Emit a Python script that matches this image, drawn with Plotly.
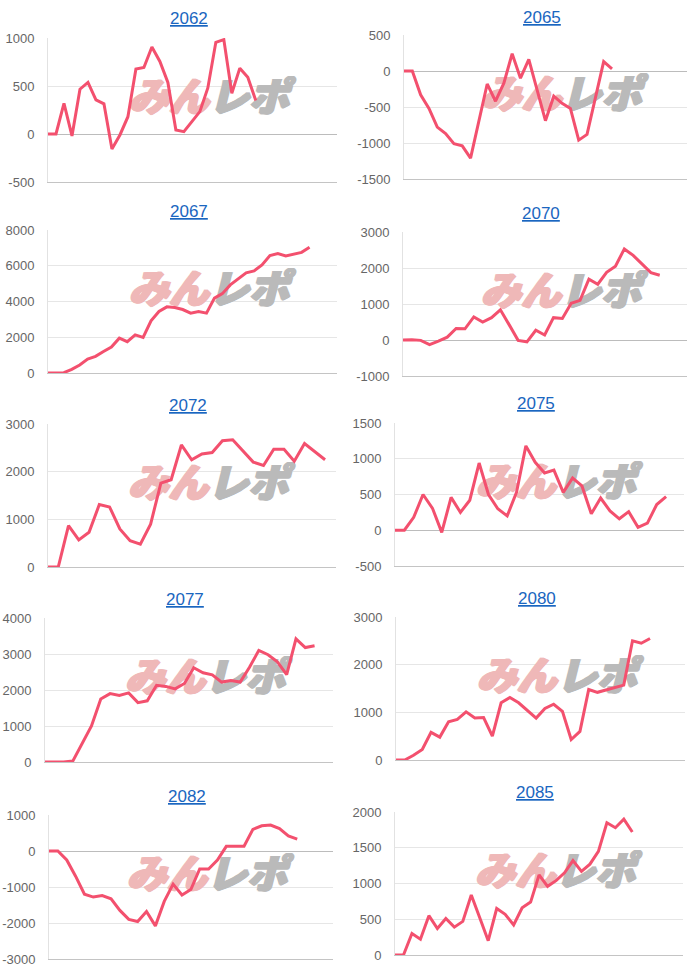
import plotly.graph_objects as go

W, H = 700, 976

# machine numbers (panel titles)
machines = ["2062", "2065", "2067", "2070", "2072", "2075", "2077", "2080", "2082", "2085"]

# cumulative medal difference per machine
m2062 = [0, 0, 320, -20, 467, 537, 355, 314, -157, -10, 180, 676, 693, 906, 756, 537, 42, 24, 129,
         233, 480, 955, 983, 425, 686, 592, 348]
m2065 = [0, 0, -330, -520, -780, -870, -1010, -1040, -1210, -700, -180, -420, -170, 240, -100, 160,
         -250, -690, -350, -450, -520, -960, -880, -380, 130, 30]
m2067 = [0, 0, 20, 200, 450, 780, 930, 1200, 1450, 1950, 1750, 2130, 1990, 2920, 3440, 3700, 3660,
         3550, 3350, 3440, 3350, 4190, 4440, 4930, 5250, 5600, 5710, 6050, 6570, 6680, 6550, 6640,
         6750, 7030]
m2070 = [0, 10, -10, -130, -30, 80, 320, 310, 640, 500, 620, 840, 420, -10, -50, 270, 140, 620, 600,
         1020, 1100, 1690, 1550, 1880, 2050, 2530, 2350, 2100, 1870, 1800]
m2072 = [0, 0, 870, 570, 730, 1310, 1260, 800, 550, 480, 900, 1760, 1830, 2560, 2250, 2370, 2400,
         2650, 2670, 2430, 2200, 2130, 2470, 2470, 2220, 2590, 2420, 2250]
m2075 = [0, 0, 180, 500, 310, -30, 460, 250, 420, 940, 500, 300, 200, 530, 1180, 950, 800, 840, 530,
         730, 620, 230, 450, 270, 160, 260, 40, 100, 360, 470]
m2077 = [0, 0, 0, 30, 500, 1000, 1750, 1900, 1850, 1920, 1650, 1700, 2130, 2100, 2030, 2180, 2620,
         2480, 2420, 2220, 2260, 2220, 2630, 3100, 2980, 2780, 2430, 3420, 3180, 3230]
m2080 = [0, 0, 100, 220, 580, 480, 800, 850, 1010, 880, 890, 500, 1200, 1310, 1200, 1040, 880, 1080,
         1170, 1020, 430, 600, 1480, 1420, 1470, 1530, 1570, 2500, 2450, 2550]
m2082 = [0, 0, -250, -700, -1200, -1280, -1240, -1330, -1650, -1900, -1960, -1680, -2080, -1400, -920,
         -1220, -1070, -500, -500, -250, 130, 130, 130, 600, 700, 720, 620, 420, 330]
m2085 = [0, 0, 300, 220, 550, 370, 510, 390, 470, 840, 520, 200, 650, 570, 420, 660, 740, 1120, 960,
         1040, 1150, 1320, 1170, 1270, 1450, 1850, 1780, 1900, 1720]
series = [m2062, m2065, m2067, m2070, m2072, m2075, m2077, m2080, m2082, m2085]

# y axis ranges and tick steps
y_ranges = [(-500, 1000), (-1500, 500), (0, 8000), (-1000, 3000), (0, 3000),
            (-500, 1500), (0, 4000), (0, 3000), (-3000, 1000), (0, 2000)]
y_steps = [500, 500, 2000, 1000, 1000, 500, 1000, 1000, 1000, 500]

# layout: plot boxes in px (x0, x1, y0, y1) and share of width covered by the line
boxes = [(48, 337, 38, 182), (404, 687, 35, 179), (48, 337, 230, 373), (403, 687, 232, 376),
         (48, 336, 424, 567), (395, 684, 423, 566), (45, 333, 618, 762), (396, 685, 617, 760),
         (49, 333, 815, 959), (395, 683, 812, 955)]
spans = [0.719, 0.735, 0.905, 0.904, 0.962, 0.938, 0.936, 0.879, 0.874, 0.824]
title_y = [19, 17, 212, 213, 406, 404, 599, 598, 796, 792]

LINE = "#f3506e"
FONT = "Liberation Sans, Arial, sans-serif"
PINK = "#efb8b8"
GREY = "#bababa"


def fat(c):
    # thicken the watermark glyphs with a few offset shadows
    return ", ".join(f"{dx}px {dy}px 0px {c}" for dx, dy in [(1, 0), (-1, 0), (0, 1), (2, 0), (1, 1)])


fig = go.Figure()
layout = {}
annotations = []

for i, (name, vals) in enumerate(zip(machines, series)):
    k = "" if i == 0 else str(i + 1)
    x0, x1, y0, y1 = boxes[i]
    n = len(vals)
    xmax = (n - 1) / spans[i]
    ylo, yhi = y_ranges[i]
    ticks = list(range(ylo, yhi + 1, y_steps[i]))

    # watermark drawn first so the line sits on top of it
    wx, wy = xmax * 0.555, ylo + 0.56 * (yhi - ylo)
    for txt, pos, col in [("<i>みん</i>", "middle left", PINK), ("<i>レポ</i>", "middle right", GREY)]:
        fig.add_trace(go.Scatter(
            x=[wx], y=[wy], mode="text", text=[txt], textposition=pos,
            textfont=dict(family="Noto Sans CJK JP", size=40, weight=900, color=col,
                          shadow=fat(col)),
            hoverinfo="skip", showlegend=False,
            xaxis="x" + k, yaxis="y" + k,
        ))

    fig.add_trace(go.Scatter(
        x=list(range(n)), y=vals,
        mode="lines",
        line=dict(color=LINE, width=3),
        showlegend=False,
        xaxis="x" + k, yaxis="y" + k,
    ))

    layout["xaxis" + k] = dict(
        domain=[x0 / W, x1 / W], anchor="y" + k, automargin=False,
        range=[0, xmax], showgrid=False, zeroline=False,
        showticklabels=False, showline=True, linecolor="#c4c4c4", linewidth=1,
    )
    layout["yaxis" + k] = dict(
        domain=[1 - y1 / H, 1 - y0 / H], anchor="x" + k, automargin=False,
        range=[ylo, yhi], tickvals=ticks, ticktext=[str(t) for t in ticks],
        showgrid=True, gridcolor="#e6e6e6", gridwidth=1,
        zeroline=True, zerolinecolor="#bcbcbc", zerolinewidth=1,
        showline=True, linecolor="#e2e2e2", linewidth=1,
        ticks="", ticklabelstandoff=10,
        tickfont=dict(family=FONT, size=13, color="#666666"),
    )

    annotations.append(dict(
        text="<u>" + name + "</u>",
        x=((x0 + x1) / 2 - 4) / W, y=1 - title_y[i] / H,
        xref="paper", yref="paper", xanchor="center", yanchor="middle",
        showarrow=False,
        font=dict(family=FONT, size=17, color="#1a66c0"),
    ))

fig.update_layout(
    width=W, height=H,
    margin=dict(l=0, r=0, t=0, b=0),
    paper_bgcolor="white", plot_bgcolor="white",
    annotations=annotations,
    **layout,
)

fig.write_html("out.html", config={"displayModeBar": False},
               post_script="document.body.style.margin = '0';")
